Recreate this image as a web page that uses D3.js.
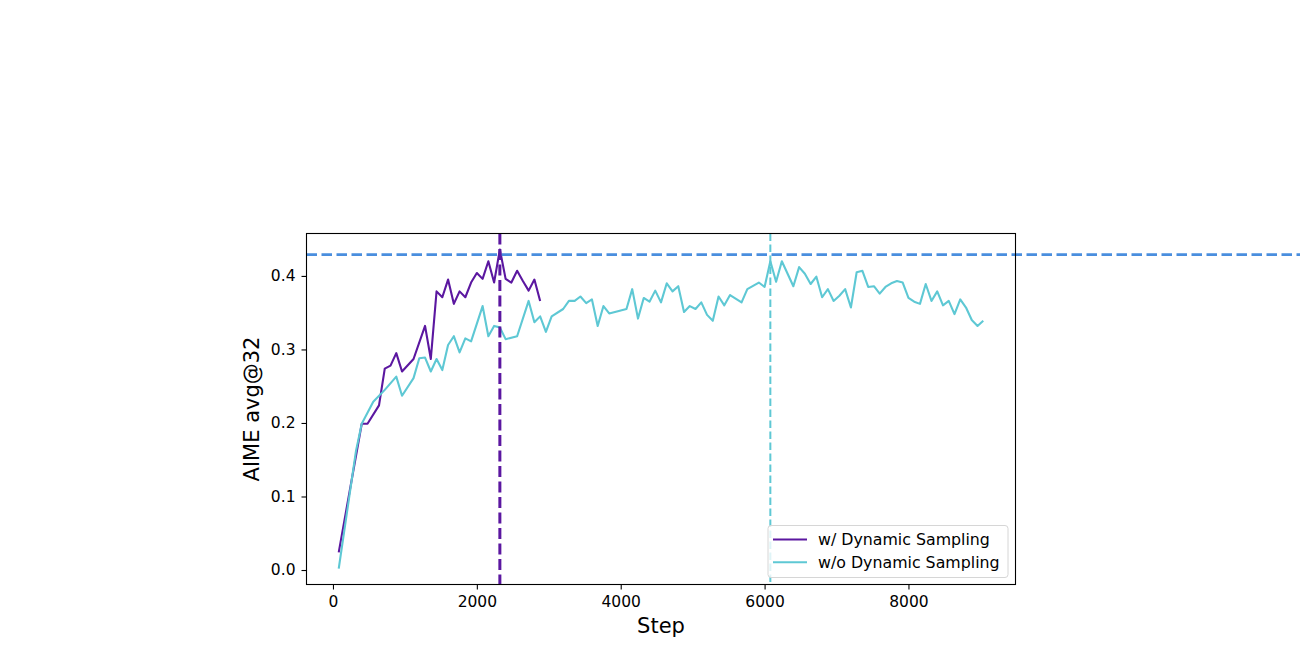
<!DOCTYPE html>
<html>
<head>
<meta charset="utf-8">
<script src="https://cdn.jsdelivr.net/npm/d3@7"></script>
<style>
  body { margin: 0; background: #fff; }
  text { font-family: 'DejaVu Sans', sans-serif; fill: #000; }
</style>
</head>
<body>
<div id="app"></div>
<script>
'use strict'

// w/ Dynamic Sampling
const withSteps = [80, 400, 480, 640, 720, 800, 880, 960, 1120, 1280, 1360, 1440, 1520, 1600, 1680,
  1760, 1840, 1920, 2000, 2080, 2160, 2240, 2320, 2400, 2480, 2560, 2640, 2720, 2800, 2880]
const withValues = [0.024, 0.199, 0.199, 0.224, 0.274, 0.278, 0.295, 0.270, 0.287, 0.332, 0.287, 0.379, 0.371, 0.395, 0.362,
  0.379, 0.371, 0.391, 0.404, 0.396, 0.420, 0.391, 0.436, 0.396, 0.391, 0.407, 0.393, 0.380, 0.395, 0.366]

// w/o Dynamic Sampling
const withoutSteps = [80, 320, 400, 560, 720, 880, 960, 1120, 1200, 1280, 1360, 1440, 1520, 1600, 1680,
  1760, 1840, 1920, 2080, 2160, 2240, 2320, 2400, 2560, 2720, 2800, 2880, 2960, 3040, 3200,
  3280, 3360, 3440, 3520, 3600, 3680, 3760, 3840, 4080, 4160, 4240, 4320, 4400, 4480, 4560,
  4640, 4720, 4800, 4880, 4960, 5040, 5120, 5200, 5280, 5360, 5440, 5520, 5680, 5760, 5920,
  6000, 6080, 6160, 6240, 6400, 6480, 6560, 6640, 6720, 6800, 6880, 6960, 7040, 7120, 7200,
  7280, 7360, 7440, 7520, 7600, 7680, 7760, 7840, 7920, 8000, 8080, 8160, 8240, 8320, 8400,
  8480, 8560, 8640, 8720, 8800, 8880, 8960, 9040]
const withoutValues = [0.002, 0.162, 0.199, 0.229, 0.245, 0.263, 0.237, 0.261, 0.288, 0.289, 0.270, 0.287, 0.272, 0.306, 0.318,
  0.296, 0.315, 0.311, 0.359, 0.318, 0.332, 0.330, 0.314, 0.318, 0.366, 0.337, 0.345, 0.324, 0.345, 0.355,
  0.366, 0.366, 0.372, 0.363, 0.368, 0.332, 0.359, 0.349, 0.355, 0.382, 0.342, 0.370, 0.365, 0.380, 0.364,
  0.390, 0.379, 0.386, 0.351, 0.359, 0.355, 0.364, 0.347, 0.339, 0.372, 0.360, 0.374, 0.364, 0.382, 0.391,
  0.385, 0.420, 0.392, 0.420, 0.386, 0.412, 0.403, 0.389, 0.399, 0.371, 0.382, 0.366, 0.373, 0.382, 0.357,
  0.405, 0.407, 0.385, 0.386, 0.376, 0.385, 0.390, 0.393, 0.391, 0.370, 0.365, 0.362, 0.389, 0.366, 0.379,
  0.360, 0.366, 0.348, 0.368, 0.357, 0.340, 0.332, 0.339]

const seriesNames = ['w/ Dynamic Sampling', 'w/o Dynamic Sampling']
const seriesColors = ['#5b17a0', '#5ec8d4']
const xTicks = [0, 2000, 4000, 6000, 8000]
const yTicks = [0.0, 0.1, 0.2, 0.3, 0.4]
const targetScore = 0.429
const bestSteps = [2320, 6080]

const width = 1300
const height = 650
const plot = { left: 306.5, top: 233.5, width: 709, height: 351 }

const series = [
  { name: seriesNames[0], color: seriesColors[0], points: withSteps.map((s, i) => [s, withValues[i]]) },
  { name: seriesNames[1], color: seriesColors[1], points: withoutSteps.map((s, i) => [s, withoutValues[i]]) }
]

// matplotlib-style 5% margins around the data
const pad = ([a, b]) => [a - (b - a) * 0.05, b + (b - a) * 0.05]
const allSteps = withSteps.concat(withoutSteps)
const allValues = withValues.concat(withoutValues)

const x = d3.scaleLinear().domain(pad(d3.extent(allSteps))).range([0, plot.width])
const y = d3.scaleLinear().domain(pad(d3.extent(allValues))).range([plot.height, 0])

const svg = d3.select('#app').append('svg')
  .attr('width', width)
  .attr('height', height)
  .style('display', 'block')

const g = svg.append('g')
  .attr('transform', `translate(${plot.left}, ${plot.top})`)

// axes
const xAxis = g.append('g')
  .attr('transform', `translate(0, ${plot.height})`)
  .call(d3.axisBottom(x).tickValues(xTicks).tickFormat(d3.format('d')).tickSize(5).tickPadding(6))
const yAxis = g.append('g')
  .call(d3.axisLeft(y).tickValues(yTicks).tickFormat(d3.format('.1f')).tickSize(5).tickPadding(6))

;[xAxis, yAxis].forEach(a => {
  a.select('.domain').remove()
  a.selectAll('.tick line').attr('stroke', '#000').attr('stroke-width', 1.1)
  a.selectAll('.tick text').style('font-size', '15.5px').style('font-family', 'DejaVu Sans').attr('fill', '#000')
})

// data lines
const line = d3.line().x(d => x(d[0])).y(d => y(d[1]))

series.forEach(s => {
  g.append('path')
    .datum(s.points)
    .attr('d', line)
    .attr('fill', 'none')
    .attr('stroke', s.color)
    .attr('stroke-width', 2.1)
    .attr('stroke-linejoin', 'round')
})

// target line runs past the right edge of the axes
g.append('line')
  .attr('x1', 0)
  .attr('x2', width - plot.left)
  .attr('y1', y(targetScore))
  .attr('y2', y(targetScore))
  .attr('stroke', '#4a8ede')
  .attr('stroke-width', 2.8)
  .attr('stroke-dasharray', '10.5,4.5')

// best step markers
g.append('line')
  .attr('x1', x(bestSteps[0])).attr('x2', x(bestSteps[0]))
  .attr('y1', 0).attr('y2', plot.height)
  .attr('stroke', seriesColors[0])
  .attr('stroke-width', 3)
  .attr('stroke-dasharray', '11,4.5')

g.append('line')
  .attr('x1', x(bestSteps[1])).attr('x2', x(bestSteps[1]))
  .attr('y1', 0).attr('y2', plot.height)
  .attr('stroke', seriesColors[1])
  .attr('stroke-width', 2)
  .attr('stroke-dasharray', '7.5,3.5')

// frame
g.append('rect')
  .attr('width', plot.width)
  .attr('height', plot.height)
  .attr('fill', 'none')
  .attr('stroke', '#000')
  .attr('stroke-width', 1.1)

// axis labels
svg.append('text')
  .attr('x', plot.left + plot.width / 2)
  .attr('y', 633)
  .attr('text-anchor', 'middle')
  .style('font-size', '21px')
  .text('Step')

svg.append('text')
  .attr('transform', `translate(259, ${plot.top + plot.height / 2}) rotate(-90)`)
  .attr('text-anchor', 'middle')
  .style('font-size', '21px')
  .text('AIME avg@32')

// legend
const legend = svg.append('g').attr('transform', 'translate(768, 525.5)')
legend.append('rect')
  .attr('width', 240)
  .attr('height', 52)
  .attr('rx', 3)
  .attr('fill', '#fff')
  .attr('fill-opacity', 0.8)
  .attr('stroke', '#d6d6d6')
  .attr('stroke-width', 1)

series.forEach((s, i) => {
  const row = legend.append('g').attr('transform', `translate(0, ${14 + i * 22.7})`)
  row.append('line')
    .attr('x1', 5).attr('x2', 39)
    .attr('stroke', s.color)
    .attr('stroke-width', 2.1)
  row.append('text')
    .attr('x', 50)
    .attr('dy', '0.35em')
    .style('font-size', '15.8px')
    .text(s.name)
})
</script>
</body>
</html>
